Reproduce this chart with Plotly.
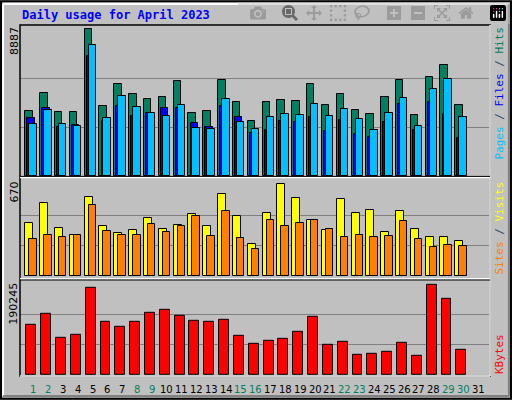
import plotly.graph_objects as go

days = list(range(1, 31))
all_days = list(range(1, 32))
weekend = [1, 2, 8, 9, 15, 16, 22, 23, 29, 30]
hits = [3919,5010,3858,3858,8887,4222,5555,4949,4646,4767,5737,3798,3919,5797,4464,3313,4464,4585,4525,5555,4282,4949,3979,3737,4767,5797,3676,5979,6706,4282]
files = [3131,3979,3131,3010,7918,3495,4828,4161,3798,3616,4282,2889,2828,4646,3252,2828,3555,3737,3676,4343,3616,4040,3434,2767,3798,4707,3010,5252,5858,3555]
pages = [3495,4101,2949,3070,7252,3313,4222,3616,3798,4101,4101,3192,2949,4222,3555,2586,2767,3313,3252,3555,2707,3373,2525,2343,3252,4343,2767,4464,3737,2283]
visits = [386,532,350,299,575,364,313,335,422,342,371,452,364,597,437,233,459,670,568,408,335,561,459,481,320,473,342,284,284,255]
sites = [269,299,284,299,517,328,299,299,379,320,364,437,291,473,277,197,408,364,386,408,342,284,299,284,291,401,269,211,226,218]
kbytes = [106626,129623,77356,83628,183982,112898,102444,112898,131714,136386,125442,114989,112898,117079,81537,64812,71084,75265,89900,123351,62721,68993,41814,43905,48086,66902,39723,190245,160983,52267]

BG = "#C0C0C0"
line = dict(color="black", width=1)
fig = go.Figure()
def bar(y, color, off, w, ax):
    fig.add_trace(go.Bar(x=days, y=y, offset=off, width=w, marker=dict(color=color, line=line),
                         xaxis="x", yaxis=ax, showlegend=False, hoverinfo="skip"))
bar(hits, "#008060", -0.54, 0.5, "y")
bar(pages, "#0000FF", -0.40, 0.5, "y")
bar(files, "#00C0FF", -0.27, 0.5, "y")
bar(visits, "#FFFF00", -0.54, 0.54, "y2")
bar(sites, "#FF8000", -0.27, 0.5, "y2")
bar(kbytes, "#FF0000", -0.47, 0.67, "y3")

mh, mv, mk = max(hits), max(visits), max(kbytes)
grid = dict(showgrid=True, gridcolor="#808080", gridwidth=1, showticklabels=False, zeroline=False, fixedrange=True)
fig.update_layout(
    width=512, height=400, margin=dict(l=0, r=0, t=0, b=0),
    paper_bgcolor=BG, plot_bgcolor=BG, barmode="overlay", bargap=0,
    xaxis=dict(range=[0.1, 31.8], domain=[20/512, 490/512], showgrid=False, showticklabels=False, zeroline=False),
    yaxis=dict(domain=[0.56, 0.9375], range=[0, mh*151/146.7], tickvals=[mh/3, mh*2/3], **grid),
    yaxis2=dict(domain=[0.309, 0.55], range=[0, mv*96.3/92], tickvals=[mv/3, mv*2/3], **grid),
    yaxis3=dict(domain=[0.062, 0.298], range=[0, mk*94.6/91], tickvals=[mk/3, mk*2/3], **grid),
)
shapes = [
    dict(type="rect", xref="paper", yref="paper", x0=0.002, x1=0.998, y0=0.003, y1=0.997, line=dict(color="black", width=2)),
    dict(type="line", xref="paper", yref="paper", x0=0.006, x1=0.994, y0=0.99, y1=0.99, line=dict(color="white", width=2)),
    dict(type="line", xref="paper", yref="paper", x0=0.006, x1=0.006, y0=0.01, y1=0.99, line=dict(color="white", width=2)),
    dict(type="line", xref="paper", yref="paper", x0=0.006, x1=0.994, y0=0.01, y1=0.01, line=dict(color="#808080", width=2)),
    dict(type="line", xref="paper", yref="paper", x0=0.994, x1=0.994, y0=0.01, y1=0.99, line=dict(color="#808080", width=2)),
    dict(type="rect", xref="paper", yref="paper", x0=20/512, x1=490/512, y0=0.06, y1=0.9375, line=dict(color="black", width=1.5)),
    dict(type="line", xref="paper", yref="paper", x0=490/512, x1=490/512, y0=0.06, y1=0.9375, line=dict(color="white", width=1.5)),
    dict(type="line", xref="paper", yref="paper", x0=20/512, x1=490/512, y0=0.06, y1=0.06, line=dict(color="white", width=1.5)),
    dict(type="line", xref="paper", yref="paper", x0=20/512, x1=490/512, y0=0.556, y1=0.556, line=dict(color="white", width=1.5)),
    dict(type="line", xref="paper", yref="paper", x0=20/512, x1=490/512, y0=0.303, y1=0.303, line=dict(color="white", width=1.5)),
    dict(type="line", xref="paper", yref="paper", x0=20/512, x1=490/512, y0=0.559, y1=0.559, line=dict(color="black", width=1)),
    dict(type="line", xref="paper", yref="paper", x0=20/512, x1=490/512, y0=0.3, y1=0.3, line=dict(color="black", width=1)),
]
fig.update_layout(shapes=shapes)

mono = "DejaVu Sans Mono"
ann = [dict(text="<b>Daily usage for April 2023</b>", x=20/512, y=385/400, xref="paper", yref="paper", xanchor="left", yanchor="middle",
            showarrow=False, font=dict(family=mono, size=12, color="#0000FF"))]
for val, ytop in [(mh, 0.9375), (mv, 0.55), (mk, 0.298)]:
    ann.append(dict(text=str(val), x=14/512, y=ytop, xref="paper", yref="paper", xanchor="center", yanchor="top",
                    textangle=-90, showarrow=False, font=dict(family="DejaVu Sans", size=11, color="black")))
ann.append(dict(text="<span style='color:#00C0FF'>Pages</span> / <span style='color:#0000FF'>Files</span> / <span style='color:#008060'>Hits</span>",
                x=499/512, y=0.9375, xref="paper", yref="paper", xanchor="center", yanchor="top", textangle=-90, showarrow=False,
                font=dict(family=mono, size=11)))
ann.append(dict(text="<span style='color:#FF8000'>Sites</span> / <span style='color:#FFFF00'>Visits</span>",
                x=499/512, y=0.55, xref="paper", yref="paper", xanchor="center", yanchor="top", textangle=-90, showarrow=False,
                font=dict(family=mono, size=11)))
ann.append(dict(text="<span style='color:#FF0000'>KBytes</span>",
                x=499/512, y=0.06, xref="paper", yref="paper", xanchor="center", yanchor="bottom", textangle=-90, showarrow=False,
                font=dict(family=mono, size=11)))
for d in all_days:
    ann.append(dict(text=str(d), x=d, y=11/400, xref="x", yref="paper", xanchor="center", yanchor="middle",
                    showarrow=False, font=dict(family="DejaVu Sans", size=10, color="#008060" if d in weekend else "black")))
fig.update_layout(annotations=ann)
fig.write_html("out.html")
with open("out.html", encoding="utf-8") as f:
    html = f.read()
html = html.replace("<head>", "<head><style>html,body{margin:0;padding:0;overflow:hidden}</style>", 1)
with open("out.html", "w", encoding="utf-8") as f:
    f.write(html)
